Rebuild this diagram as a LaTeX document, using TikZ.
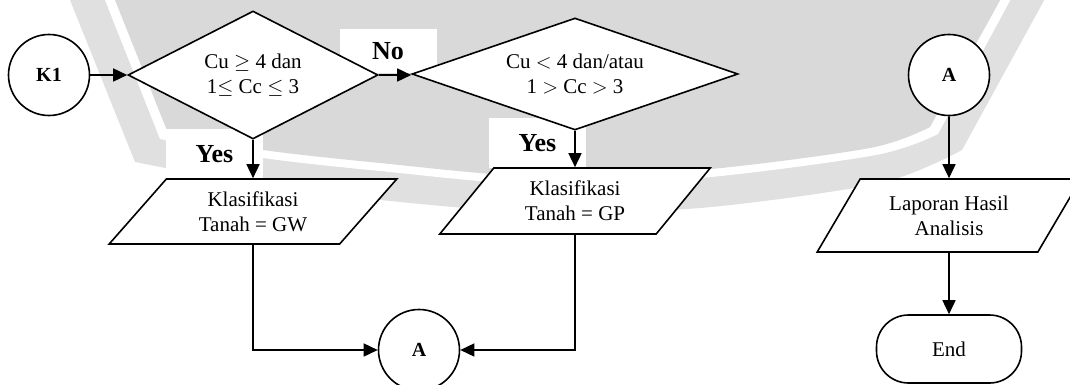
\documentclass[tikz,border=0pt]{standalone}
\usepackage{fontspec}
\setmainfont{Liberation Serif}
\usetikzlibrary{shapes.geometric,arrows.meta,calc}

\definecolor{logogray}{RGB}{217,217,217}
\definecolor{ringgray}{RGB}{224,224,224}

\begin{document}
\begin{tikzpicture}[x=1pt,y=-1pt,
  flow/.style={draw=black, fill=white, line width=1.6pt, inner sep=0pt,
    align=center, font=\fontsize{21}{25}\selectfont},
  conn/.style={circle, flow, minimum size=81pt,
    font=\bfseries\fontsize{20}{23}\selectfont},
  decision/.style={diamond, flow},
  io/.style={trapezium, flow, trapezium stretches=true},
  term/.style={rectangle, flow, rounded corners=32pt,
    minimum width=145pt, minimum height=68pt},
  lbl/.style={fill=white, inner sep=0pt, minimum width=97pt,
    font=\bfseries\fontsize{26}{30}\selectfont},
  arr/.style={-{Triangle[length=14pt,width=13pt]}, line width=1.6pt},
]
\useasboundingbox (0,0) rectangle (1070,385);
\fill[white] (0,0) rectangle (1070,385);

% grey emblem in the background
\begin{scope}
  \clip (0,0) rectangle (1070,385);
  \fill[ringgray] (68,-5) -- plot[smooth] coordinates
    {(135,162) (263,186) (380,200) (530,212) (700,208) (880,183) (962,150)}
    -- (1047,-5) -- cycle;
  \fill[white] (103,-5) -- plot[smooth] coordinates
    {(160,139) (263,158) (380,171) (530,184) (700,178) (876,155) (938,134)}
    -- (1013,-5) -- cycle;
  \fill[logogray] (113,-5) -- plot[smooth] coordinates
    {(168,133) (263,150) (380,163) (530,176) (700,170) (870,148) (930,127)}
    -- (1003,-5) -- cycle;
\end{scope}

% branch labels on white boxes
\node[lbl, minimum height=44pt] (nolbl) at (388,51) {No};
\node[lbl, minimum height=49pt] (yes1) at (214.5,154) {Yes};
\node[lbl, minimum height=49pt] (yes2) at (537.5,143) {Yes};

% flowchart nodes
\node[conn] (K1) at (49,75) {K1};
\node[decision, minimum width=250pt, minimum height=128pt, aspect=2]
  (D1) at (253,75) {Cu $\geq$ 4 dan\\1$\leq$ Cc $\leq$ 3};
\node[decision, minimum width=326pt, minimum height=112pt, aspect=2.9]
  (D2) at (575,74) {Cu $<$ 4 dan/atau\\1 $>$ Cc $>$ 3};
\node[io, trapezium left angle=48.3, trapezium right angle=131.7,
  minimum width=288pt, minimum height=65pt]
  (P1) at (253,211.5) {Klasifikasi\\Tanah = GW};
\node[io, trapezium left angle=50.2, trapezium right angle=129.8,
  minimum width=271pt, minimum height=66pt]
  (P2) at (575,201) {Klasifikasi\\Tanah = GP};
\node[conn] (A1) at (419,350) {A};
\node[conn] (A2) at (949,75) {A};
\node[io, trapezium left angle=54, trapezium right angle=126,
  minimum width=264pt, minimum height=73pt]
  (P3) at (949,215.5) {Laporan Hasil\\Analisis};
\node[term] (End) at (949,349) {End};

% connectors
\draw[arr] (K1.east) -- (D1.west);
\draw[arr] (D1.east) -- (D1.east -| D2.west);
\draw[arr] (D1.south) -- (P1.north);
\draw[arr] (D2.south) -- (P2.north);
\draw[arr] (P1.south) |- (A1.west);
\draw[arr] (P2.south) |- (A1.east);
\draw[arr] (A2.south) -- (P3.north);
\draw[arr] (P3.south) -- (End.north);
\end{tikzpicture}
\end{document}
